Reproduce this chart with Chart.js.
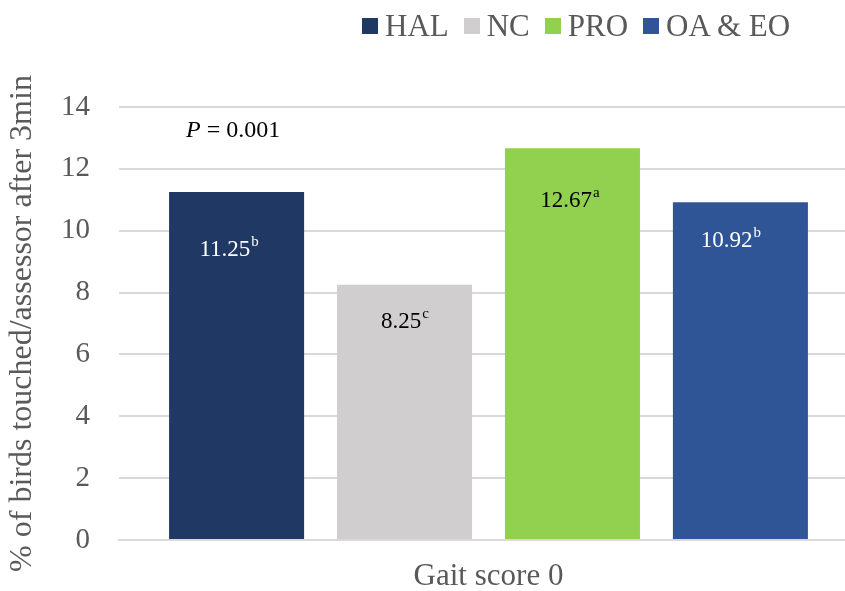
<!DOCTYPE html>
<html>
<head>
<meta charset="utf-8">
<script src="https://cdn.jsdelivr.net/npm/chart.js@4"></script>
<style>
  html, body { margin: 0; padding: 0; background: #fff; overflow: hidden; }
  #wrap { position: relative; width: 845px; height: 591px; overflow: hidden; }
  #box { position: absolute; left: 0; top: 0; width: 858px; height: 591px; }
  #legend { position: absolute; top: 6px; left: 362px; display: flex; align-items: center;
    font-family: "Liberation Serif", "Times New Roman", serif; font-size: 31px; color: #595959; }
  #legend span.sw { display: inline-block; width: 16px; height: 16px; margin-right: 7px; }
  #legend span.tx { margin-right: 15px; line-height: 40px; }
</style>
</head>
<body>
<div id="wrap">
  <div id="box"><canvas id="chart"></canvas></div>
  <div id="legend"></div>
</div>
<script>
const categories = ["Gait score 0"];
const groups = ["HAL", "NC", "PRO", "OA & EO"];
const values = [11.25, 8.25, 12.67, 10.92];
const letters = ["b", "c", "a", "b"];
const colors = ["#203864", "#D0CECE", "#92D050", "#2F5597"];
const labelColors = ["#ffffff", "#000000", "#000000", "#ffffff"];
const yTicks = [0, 2, 4, 6, 8, 10, 12, 14];

// legend
const legend = document.getElementById("legend");
groups.forEach((g, i) => {
  legend.innerHTML += '<span class="sw" style="background:' + colors[i] + '"></span><span class="tx">' + g + '</span>';
});

const serif = "'Liberation Serif', serif";
Chart.defaults.font.family = serif;

const barLabels = {
  id: "barLabels",
  afterDatasetsDraw(chart, args, opts) {
    const ctx = chart.ctx;
    ctx.save();
    ctx.textBaseline = "middle";
    chart.data.datasets.forEach((ds, i) => {
      const el = chart.getDatasetMeta(i).data[0];
      const main = values[i].toFixed(2);
      const sup = letters[i];
      ctx.font = "23px " + serif;
      const w1 = ctx.measureText(main).width;
      ctx.font = "15px " + serif;
      const w2 = ctx.measureText(sup).width;
      const x0 = el.x + opts.dx[i] - (w1 + w2) / 2;
      const y = el.y + opts.dy[i];
      ctx.fillStyle = labelColors[i];
      ctx.textAlign = "left";
      ctx.font = "23px " + serif;
      ctx.fillText(main, x0, y);
      ctx.font = "15px " + serif;
      ctx.fillText(sup, x0 + w1 + 1, y - 8);
    });
    // P value note
    const yS = chart.scales.y;
    const px = chart.chartArea.left + 67;
    const py = yS.getPixelForValue(13.22);
    ctx.fillStyle = "#000";
    ctx.font = "italic 24px " + serif;
    ctx.fillText("P", px, py);
    const wp = ctx.measureText("P").width;
    ctx.font = "24px " + serif;
    ctx.fillText(" = 0.001", px + wp, py);
    ctx.restore();
  }
};

function draw() {
  new Chart(document.getElementById("chart"), {
    type: "bar",
    data: {
      labels: categories,
      datasets: groups.map((g, i) => ({
        label: g,
        data: [values[i]],
        backgroundColor: colors[i],
        categoryPercentage: 0.909,
        barPercentage: 0.804
      }))
    },
    options: {
      responsive: true,
      maintainAspectRatio: false,
      animation: false,
      layout: { padding: { top: 107, left: 0, right: 0, bottom: 0 } },
      plugins: {
        legend: { display: false },
        tooltip: { enabled: false },
        barLabels: { dx: [-8, 0, -3, -10], dy: [58, 37, 53, 39] }
      },
      scales: {
        x: {
          grid: { display: false, drawTicks: false },
          border: { display: true, color: "#D9D9D9", width: 2 },
          ticks: { color: "#595959", font: { family: serif, size: 31 }, padding: 18 },
          afterFit: (s) => { s.height = 51; }
        },
        y: {
          min: 0,
          max: 14,
          afterBuildTicks: (s) => { s.ticks = yTicks.map(v => ({ value: v })); },
          grid: { color: "#D9D9D9", lineWidth: 2, drawTicks: false },
          border: { display: false },
          ticks: { color: "#595959", font: { family: serif, size: 29 }, padding: 29 },
          title: {
            display: true,
            text: "% of birds touched/assessor after 3min",
            color: "#595959",
            font: { family: serif, size: 32 },
            padding: { top: 3, bottom: 0 }
          },
          afterFit: (s) => { s.width = 119; }
        }
      }
    },
    plugins: [barLabels]
  });
}

Promise.all([
  document.fonts.load("24px 'Liberation Serif'"),
  document.fonts.load("italic 24px 'Liberation Serif'")
]).then(draw, draw);
</script>
</body>
</html>
